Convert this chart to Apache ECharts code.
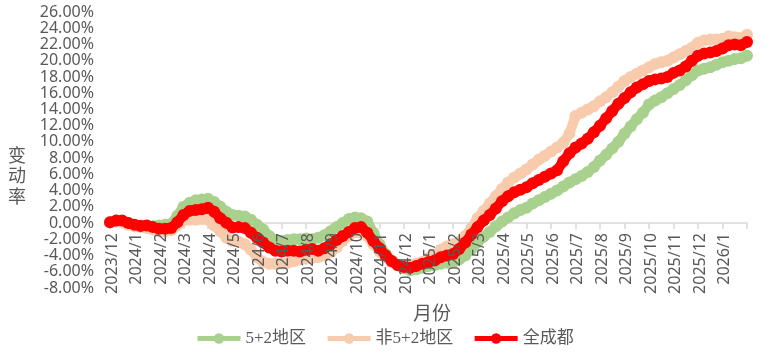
<!DOCTYPE html>
<html><head><meta charset="utf-8">
<script src="https://cdn.jsdelivr.net/npm/echarts@6/dist/echarts.min.js"></script>
<style>html,body{margin:0;padding:0;background:#fff}#c{width:765px;height:361px}</style>
</head><body><div id="c"></div>
<script>
// quarter-month sample dates, 2023/12/1 .. 2026/2/1
const months = ['2023/12','2024/1','2024/2','2024/3','2024/4','2024/5','2024/6','2024/7','2024/8','2024/9','2024/10','2024/11','2024/12',
  '2025/1','2025/2','2025/3','2025/4','2025/5','2025/6','2025/7','2025/8','2025/9','2025/10','2025/11','2025/12','2026/1','2026/2'];
const days = ['1','8','16','24'];
const categories = [];
months.forEach(function (m, i) {
  if (i < months.length - 1) { days.forEach(function (d) { categories.push(m + '/' + d); }); }
  else { categories.push(m + '/1'); }
});

const seriesNames = ['5+2地区', '非5+2地区', '全成都'];

const green = [0.1,0.3,0.2,0.0,-0.2,-0.3,-0.3,-0.4,-0.3,-0.2,-0.1,0.9,
  2.0,2.5,2.8,2.9,3.0,2.6,2.0,1.4,1.0,0.9,0.8,0.4,
  -0.2,-0.8,-1.6,-2.1,-2.2,-2.1,-2.0,-2.0,-1.9,-2.0,-1.8,-1.5,
  -1.0,-0.5,0.0,0.5,0.7,0.6,0.2,-1.2,-2.6,-3.8,-4.6,-5.2,
  -5.6,-5.8,-5.7,-5.5,-5.3,-5.2,-5.0,-4.9,-4.8,-4.5,-4.0,-3.2,
  -2.4,-1.7,-1.1,-0.4,0.2,0.7,1.2,1.6,1.9,2.4,2.8,3.2,
  3.6,4.0,4.5,5.0,5.4,5.8,6.3,6.9,7.7,8.4,9.2,10.0,
  11.0,11.9,12.8,13.6,14.6,15.1,15.5,16.0,16.5,17.0,17.6,18.2,
  18.8,19.0,19.2,19.5,19.8,20.0,20.2,20.3,20.6];

const peach = [0.1,0.2,0.1,-0.2,-0.4,-0.5,-0.6,-0.8,-1.0,-1.0,-0.9,-0.3,
  0.3,0.4,0.4,0.5,0.4,-0.3,-1.0,-1.8,-2.2,-2.3,-2.6,-3.3,
  -4.2,-4.8,-5.0,-5.0,-5.0,-4.9,-4.7,-4.5,-4.4,-4.3,-4.2,-4.0,
  -3.6,-3.0,-2.2,-1.6,-1.1,-1.2,-1.6,-2.6,-3.5,-4.2,-4.8,-5.1,
  -5.2,-5.2,-5.0,-4.8,-4.3,-3.9,-3.3,-2.9,-2.6,-2.3,-1.6,-0.6,
  0.6,1.5,2.4,3.3,4.2,5.0,5.6,6.1,6.6,7.2,7.8,8.3,
  8.8,9.3,9.9,11.0,13.2,13.6,14.0,14.4,15.0,15.5,16.1,16.8,
  17.5,18.0,18.4,18.8,19.2,19.6,19.8,20.0,20.4,20.8,21.2,21.6,
  22.2,22.5,22.6,22.6,22.7,23.0,22.9,22.8,23.2];

const red = [0.1,0.3,0.3,0.0,-0.2,-0.35,-0.3,-0.5,-0.7,-0.7,-0.6,0.1,
  1.0,1.5,1.6,1.7,1.9,1.4,0.6,0.05,-0.55,-0.5,-0.6,-1.2,
  -1.8,-2.4,-3.0,-3.4,-3.5,-3.4,-3.4,-3.5,-3.3,-3.2,-3.4,-3.1,
  -2.6,-2.1,-1.6,-1.1,-0.6,-0.5,-1.2,-2.2,-3.1,-4.0,-4.7,-5.2,
  -5.4,-5.5,-5.3,-5.0,-4.8,-4.6,-4.2,-4.0,-3.8,-3.2,-2.4,-1.4,
  -0.5,0.3,1.0,1.8,2.7,3.3,3.8,4.1,4.4,4.9,5.3,5.7,
  6.1,6.5,7.6,8.6,9.3,9.8,10.4,11.2,12.0,12.9,13.8,14.7,
  15.4,16.1,16.7,17.1,17.5,17.7,17.8,18.0,18.5,18.8,19.3,20.0,
  20.6,20.9,21.0,21.2,21.5,21.9,22.0,21.9,22.3];

const yMin = -8, yMax = 26, yStep = 2;
const colors = ['#A9D18E', '#F8CBAD', '#FF0000'];
const txt = '#595959';
const sansFont = '"Noto Sans", "Noto Sans CJK SC", sans-serif';
const serifFont = '"Liberation Serif", "Noto Sans CJK SC", serif';

const gridBox = { left: 110, right: 18, top: 12, bottom: 73 };
const labelGridBox = { left: 112, right: 16, top: 12, bottom: 73 };
const plotH = 361 - gridBox.top - gridBox.bottom;
// shift the category axis up from the grid bottom to the zero line
const zeroOffset = -plotH * (0 - yMin) / (yMax - yMin);
function monthLabel(v) { const p = v.split('/'); return p[0] + '/' + p[1]; }

const chart = echarts.init(document.getElementById('c'), null, { renderer: 'canvas' });
const values = [green, peach, red];
chart.setOption({
  animation: false,
  backgroundColor: '#fff',
  grid: [gridBox, labelGridBox],
  xAxis: [{
    gridIndex: 0, type: 'category', data: categories, boundaryGap: false, offset: zeroOffset,
    axisLine: { onZero: false, lineStyle: { color: '#D9D9D9', width: 1.5 } },
    axisTick: { show: true, length: 6, lineStyle: { color: '#D9D9D9', width: 1.5 },
      interval: function (i) { return i % 4 === 0; } },
    axisLabel: { show: false }, splitLine: { show: false }
  }, {
    gridIndex: 1, type: 'category', data: categories, boundaryGap: false, z: 10, offset: zeroOffset,
    axisLine: { show: false, onZero: false }, axisTick: { show: false },
    axisLabel: { show: true, rotate: 90, margin: 10, fontSize: 16, color: txt, fontFamily: sansFont,
      interval: function (i) { return i % 4 === 0 && i < categories.length - 1; },
      formatter: monthLabel },
    splitLine: { show: false }
  }],
  yAxis: [{
    gridIndex: 0, type: 'value', min: yMin, max: yMax, interval: yStep,
    axisLine: { show: false }, axisTick: { show: false }, splitLine: { show: false },
    axisLabel: { fontSize: 16, color: txt, fontFamily: sansFont, margin: 16,
      formatter: function (v) { return v.toFixed(2) + '%'; } }
  }, {
    gridIndex: 1, type: 'value', min: yMin, max: yMax, interval: yStep, show: false
  }],
  legend: {
    data: seriesNames, left: 190, top: 325, itemWidth: 43, itemHeight: 13, itemGap: 19,
    textStyle: { fontSize: 17, color: txt, fontFamily: serifFont },
    lineStyle: { width: 5, cap: 'butt' }
  },
  graphic: [
    { type: 'text', left: 413, top: 306, style: { text: '月份', fontSize: 19, fill: txt, fontFamily: serifFont } },
    { type: 'text', left: 8, top: 147, style: { text: '变\n动\n率', fontSize: 18, lineHeight: 20.5, fill: txt, fontFamily: serifFont } }
  ],
  series: seriesNames.map(function (name, i) {
    return {
      name: name, type: 'line', xAxisIndex: 0, yAxisIndex: 0, data: values[i],
      symbol: 'circle', symbolSize: 12, showAllSymbol: true,
      itemStyle: { color: colors[i] },
      lineStyle: { color: colors[i], width: 10, cap: 'round', join: 'round' },
      emphasis: { disabled: true }, z: 2 + i
    };
  })
});
</script></body></html>
